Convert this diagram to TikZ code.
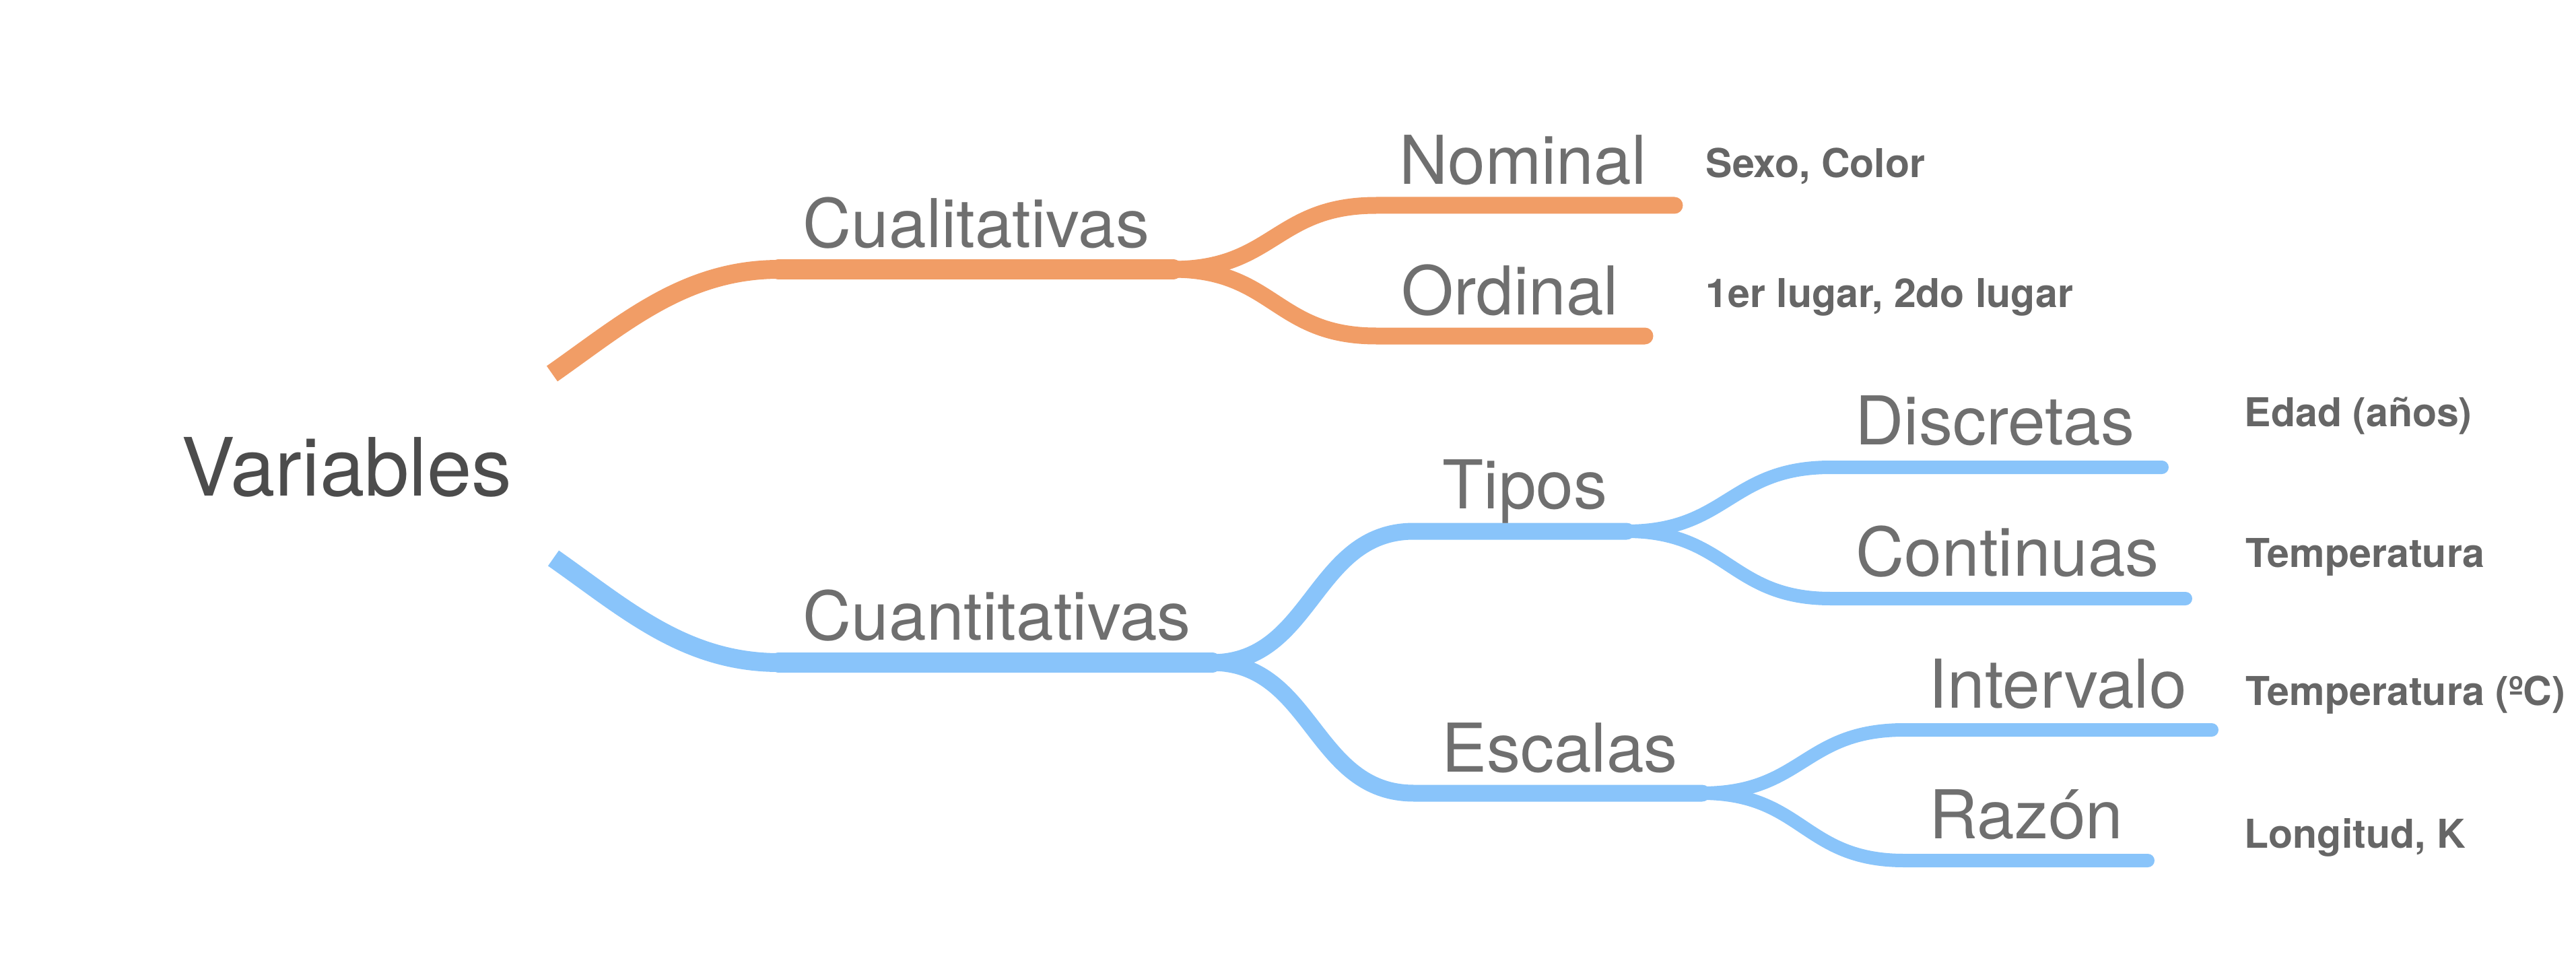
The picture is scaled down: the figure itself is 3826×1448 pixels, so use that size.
\documentclass[tikz,border=0pt]{standalone}
\usepackage{fontspec}
\setmainfont{TeX Gyre Heros}
\definecolor{qualcol}{RGB}{241,157,102}
\definecolor{quantcol}{RGB}{137,196,250}
\definecolor{rootcol}{RGB}{76,76,76}
\definecolor{labelcol}{RGB}{111,111,111}
\definecolor{notecol}{RGB}{102,102,102}
\tikzset{every node/.style={inner sep=0pt, anchor=base west},
  qual/.style={qualcol}, quant/.style={quantcol},
  stem/.style={line width=2.8mm},
  bar1/.style={line width=3mm, line cap=round},
  bar2/.style={line width=2.5mm, line cap=round, line join=round},
  bar3/.style={line width=2mm, line cap=round, line join=round},
  root/.style={rootcol, font=\fontsize{34}{40}\selectfont},
  topic/.style={labelcol, font=\fontsize{28.45}{34}\selectfont},
  note/.style={notecol, font=\fontsize{16.8}{20}\selectfont\bfseries}}

\begin{document}
\begin{tikzpicture}[x=0.1mm, y=-0.1mm]
   \useasboundingbox (0,0) rectangle (3826,1448);
   % ends of the bars
   \coordinate (var-o)  at ( 820, 555);
   \coordinate (var-b)  at ( 822, 829);
   \coordinate (cual-l) at (1157, 400); \coordinate (cual-r) at (1742, 400);
   \coordinate (cuan-l) at (1157, 984); \coordinate (cuan-r) at (1800, 984);
   \coordinate (nom-l)  at (2044, 305); \coordinate (nom-r)  at (2487, 305);
   \coordinate (ord-l)  at (2044, 499); \coordinate (ord-r)  at (2443, 499);
   \coordinate (tip-l)  at (2100, 789); \coordinate (tip-r)  at (2416, 789);
   \coordinate (esc-l)  at (2100,1178); \coordinate (esc-r)  at (2528,1178);
   \coordinate (dis-l)  at (2719, 694); \coordinate (dis-r)  at (3211, 694);
   \coordinate (con-l)  at (2719, 889); \coordinate (con-r)  at (3246, 889);
   \coordinate (int-l)  at (2828,1084); \coordinate (int-r)  at (3285,1084);
   \coordinate (raz-l)  at (2828,1278); \coordinate (raz-r)  at (3190,1278);
   % first level
   \draw[qual,stem]  (var-o) .. controls +(107,-75) and +(-140,0) .. (cual-l);
   \draw[quant,stem] (var-b) .. controls +(107,75) and +(-140,0) .. (cuan-l);
   \draw[qual,bar1]  (cual-l) -- (cual-r);
   \draw[quant,bar1] (cuan-l) -- (cuan-r);
   % second level
   \draw[qual,bar2]  (cual-r) .. controls +(150,0) and +(-150,0) .. (nom-l) -- (nom-r);
   \draw[qual,bar2]  (cual-r) .. controls +(150,0) and +(-150,0) .. (ord-l) -- (ord-r);
   \draw[quant,bar2] (cuan-r) .. controls +(150,0) and +(-150,0) .. (tip-l) -- (tip-r);
   \draw[quant,bar2] (cuan-r) .. controls +(150,0) and +(-150,0) .. (esc-l) -- (esc-r);
   % third level
   \draw[quant,bar3] (tip-r) .. controls +(150,0) and +(-150,0) .. (dis-l) -- (dis-r);
   \draw[quant,bar3] (tip-r) .. controls +(150,0) and +(-150,0) .. (con-l) -- (con-r);
   \draw[quant,bar3] (esc-r) .. controls +(150,0) and +(-150,0) .. (int-l) -- (int-r);
   \draw[quant,bar3] (esc-r) .. controls +(150,0) and +(-150,0) .. (raz-l) -- (raz-r);
   % labels
   \node[root]  (var)  at ( 269, 736) {Variables};
   \node[topic] (cual) at (1192, 367) {Cualitativas};
   \node[topic] (cuan) at (1192, 950) {Cuantitativas};
   \node[topic] (nom)  at (2078, 273) {Nominal};
   \node[topic] (ord)  at (2081, 467) {Ordinal};
   \node[topic] (tip)  at (2142, 755) {Tipos};
   \node[topic] (esc)  at (2141,1146) {Escalas};
   \node[topic] (dis)  at (2755, 660) {Discretas};
   \node[topic] (con)  at (2756, 855) {Continuas};
   \node[topic] (int)  at (2864,1051) {Intervalo};
   \node[topic] (raz)  at (2865,1245) {Razón};
   \node[note] (nom-x) at (2533, 264) {Sexo, Color};
   \node[note] (ord-x) at (2533, 457) {1er lugar, 2do lugar};
   \node[note] (dis-x) at (3333, 633) {Edad (años)};
   \node[note] (con-x) at (3335, 842) {Temperatura};
   \node[note] (int-x) at (3335,1047) {Temperatura (ºC)};
   \node[note] (raz-x) at (3333,1259) {Longitud, K};
  \end{tikzpicture}
\end{document}
